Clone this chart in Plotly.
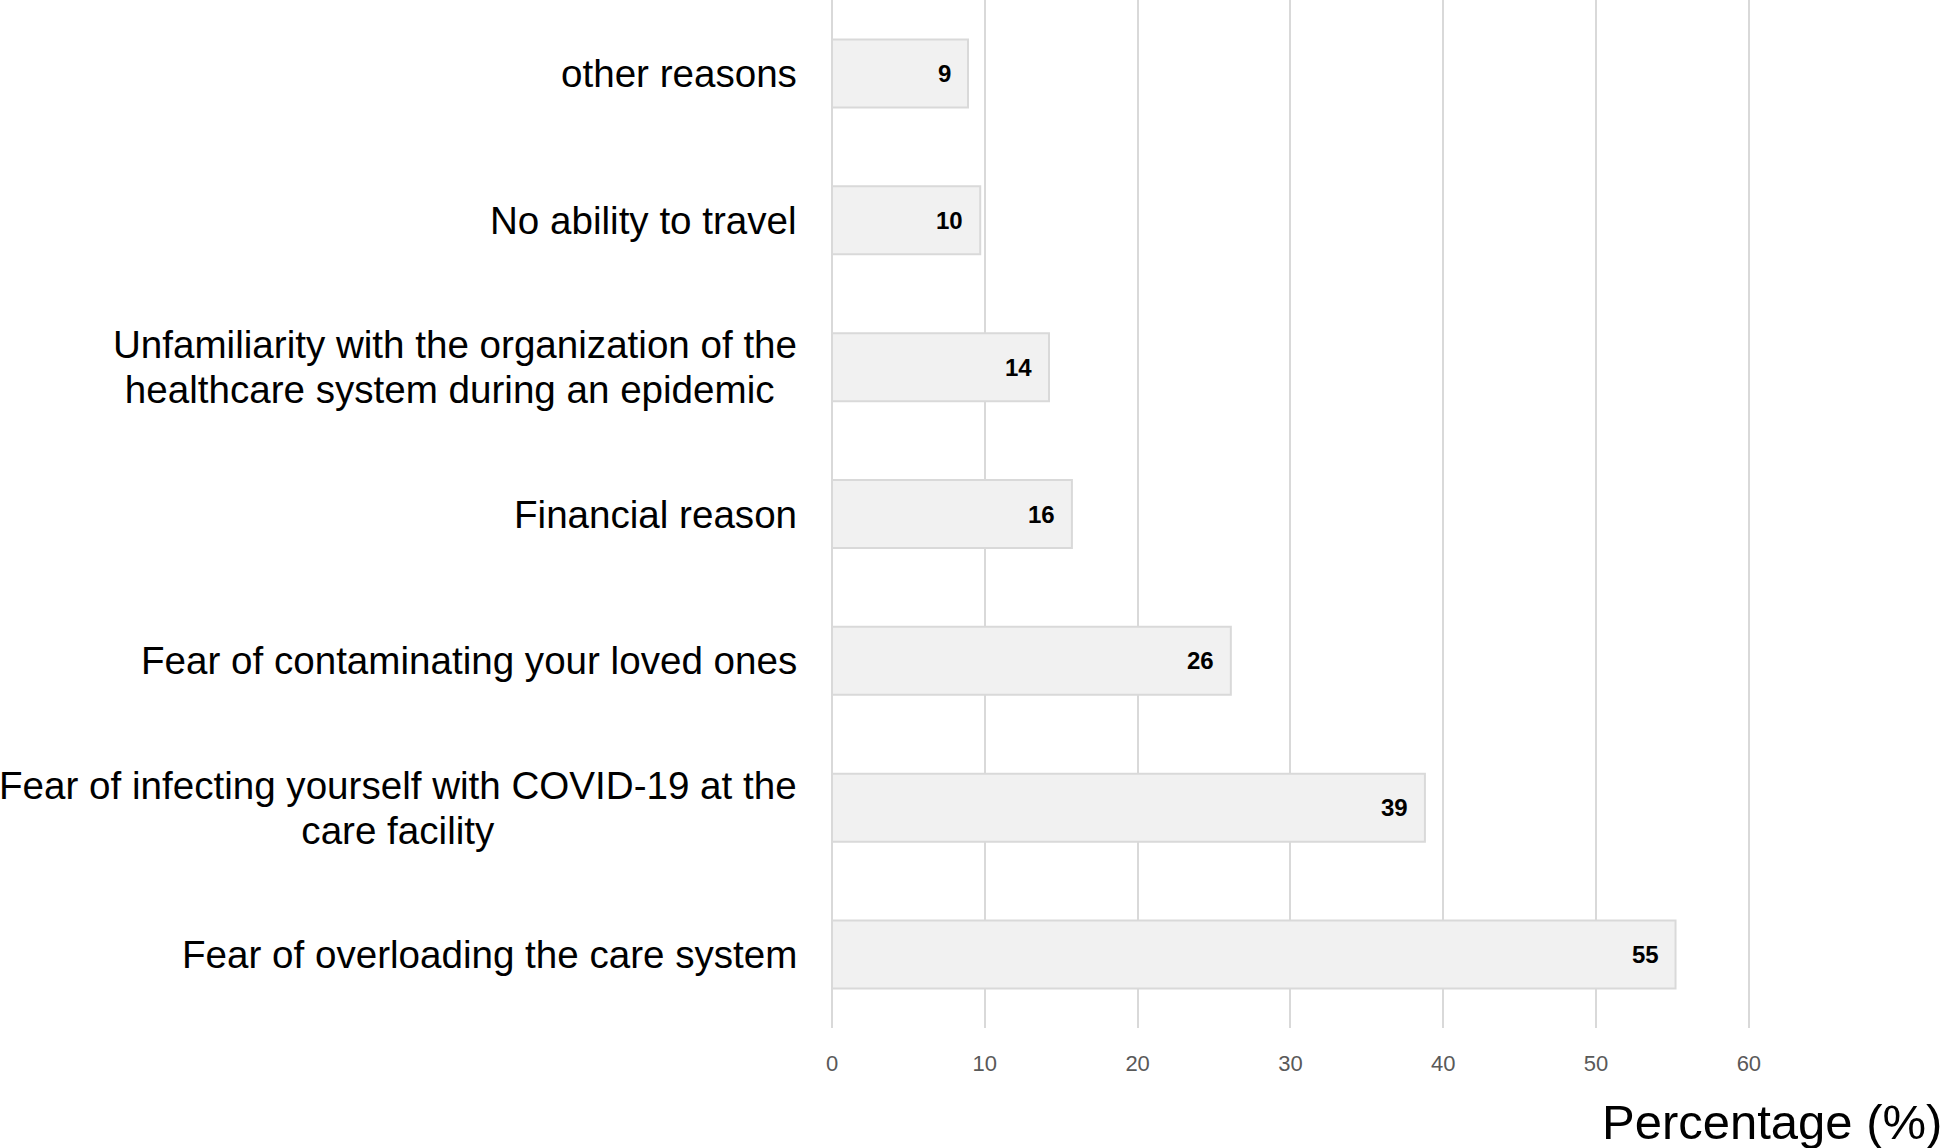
import plotly.graph_objects as go

# bottom to top, as plotly draws categories
reasons = [
    'Fear of overloading the care system',
    'Fear of infecting yourself with COVID-19 at the<br>care facility',
    'Fear of contaminating your loved ones',
    'Financial reason',
    'Unfamiliarity with the organization of the<br>healthcare system during an epidemic ',
    'No ability to travel',
    'other reasons',
]
percentages = [55.2, 38.8, 26.1, 15.7, 14.2, 9.7, 8.9]
value_labels = ['55', '39', '26', '16', '14', '10', '9']
x_ticks = [0, 10, 20, 30, 40, 50, 60]

FONT = 'Liberation Sans, Arial, sans-serif'

fig = go.Figure()
fig.add_trace(go.Bar(
    y=list(range(len(reasons))),
    x=percentages,
    orientation='h',
    marker=dict(color='#f1f1f1', line=dict(color='#d9d9d9', width=2)),
    width=0.463,
    hoverinfo='skip',
))

annotations = []
for i, (reason, pct, lab) in enumerate(zip(reasons, percentages, value_labels)):
    # category label left of the axis; the outer size sets the line spacing
    lines = ['<span style="font-size:38.6px">%s</span>' % s for s in reason.split('<br>')]
    annotations.append(dict(
        xref='paper', x=0, yref='y', y=i, text='<br>'.join(lines), showarrow=False,
        xanchor='right', yanchor='middle', align='center', xshift=-33,
        font=dict(family=FONT, size=34.5, color='#000000'),
    ))
    # value label inside the bar end
    annotations.append(dict(
        xref='x', x=pct, yref='y', y=i, text='<b>%s</b>' % lab, showarrow=False,
        xanchor='right', yanchor='middle', xshift=-15,
        font=dict(family=FONT, size=24, color='#000000'),
    ))

annotations.append(dict(
    xref='paper', x=1, yref='paper', y=0, text='Percentage (%)', showarrow=False,
    xanchor='right', yanchor='middle', xshift=-2, yshift=-94,
    font=dict(family=FONT, size=49, color='#000000'),
))

fig.update_layout(
    width=1946, height=1148,
    margin=dict(l=832, r=0, t=0, b=120),
    plot_bgcolor='white', paper_bgcolor='white',
    showlegend=False,
    annotations=annotations,
)
fig.update_xaxes(
    range=[0, 72.9], tickvals=x_ticks, showgrid=True, gridcolor='#d9d9d9', gridwidth=2,
    zeroline=True, zerolinecolor='#d9d9d9', zerolinewidth=2, showline=False,
    tickfont=dict(family=FONT, size=22, color='#595959'), ticklabelstandoff=20,
)
fig.update_yaxes(
    range=[-0.5, len(reasons) - 0.5], showticklabels=False, showgrid=False,
    zeroline=False, showline=False,
)

fig.write_html('out.html', config={'displayModeBar': False},
               post_script="document.body.style.margin='0';")
